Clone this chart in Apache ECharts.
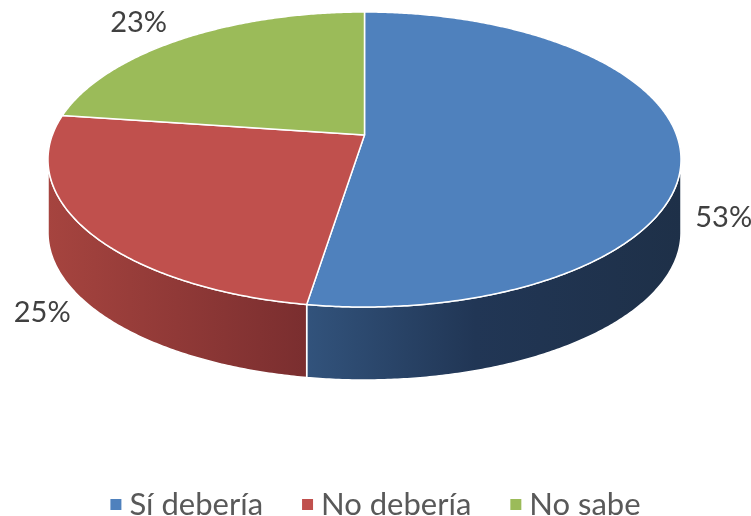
<!DOCTYPE html>
<html>
<head>
<meta charset="utf-8">
<script src="https://cdn.jsdelivr.net/npm/echarts@6/dist/echarts.min.js"></script>
<style>html,body{margin:0;padding:0;background:#fff}#c{width:751px;height:516px}</style>
</head>
<body>
<div id="c"></div>
<script>
// ---- data ----
const categories = ['Sí debería', 'No debería', 'No sabe'];
const values = [53, 25, 23];
const labelTexts = ['53%', '25%', '23%'];

// ---- styles / layout ----
const topColors = ['#4f81bd', '#c0504d', '#9bbb59'];
const wallColors = [
  [[0, '#32537c'], [0.45, '#213655'], [1, '#1e3048']],
  [[0, '#a6443f'], [1, '#7a2e2f']],
  [[0, '#7e9b44'], [1, '#5f7533']]
];
const CX = 364.5, CY = 159.5, RX = 316.5, RY = 147.5, K = 0.166, DEPTH = 73;
const FONT = 'Lato';

const total = values.reduce((a, b) => a + b, 0);
const starts = [];
{ let c = 0; values.forEach(v => { starts.push(c); c += v; }); }

function proj(phi, r, drop) {
  const u = r * Math.sin(phi), v = -r * Math.cos(phi);
  const den = 1 - K * v;
  const xp = u * Math.sqrt(1 - K * K) / den;
  const yp = (v - K) / den;
  return [CX + RX * xp, CY + RY * yp + (drop || 0)];
}
function arc(a, b, drop) {
  const pts = [];
  const n = Math.max(2, Math.ceil(Math.abs(b - a) / (Math.PI / 360)));
  for (let i = 0; i <= n; i++) pts.push(proj(a + (b - a) * i / n, 1, drop));
  return pts;
}
const silR = Math.acos(-K), silL = 2 * Math.PI - Math.acos(-K);

function renderSlice(params, api) {
  const idx = api.value(0);
  const val = api.value(1);
  const st = api.value(2);
  const a = st / total * 2 * Math.PI;
  const b = (st + val) / total * 2 * Math.PI;
  const children = [];
  // wall
  const ws = Math.max(a, silR), we = Math.min(b, silL);
  if (we > ws) {
    const top = arc(ws, we, 0);
    const bot = arc(we, ws, DEPTH);
    const pts = top.concat(bot);
    children.push({
      type: 'polygon', z2: 1,
      shape: { points: pts },
      style: {
        fill: { type: 'linear', x: 0, y: 0, x2: 1, y2: 0,
          colorStops: wallColors[idx].map(s => ({ offset: s[0], color: s[1] })) },
        stroke: '#ffffff', lineWidth: 1.5, lineJoin: 'round'
      }
    });
  }
  // top face
  const face = [proj(0, 0, 0)].concat(arc(a, b, 0));
  children.push({
    type: 'polygon', z2: 2,
    shape: { points: face },
    style: { fill: topColors[idx], stroke: '#ffffff', lineWidth: 1.5, lineJoin: 'round' }
  });
  // label
  const mid = (a + b) / 2;
  const rim = proj(mid, 1, 0);
  const u = Math.sin(mid), v = -Math.cos(mid);
  const den = 1 - K * v;
  const xp = u * Math.sqrt(1 - K * K) / den, yp = (v - K) / den;
  const lx = rim[0] + (xp >= 0 ? 1 : -1) * 44;
  const ly = rim[1] + yp * 20 + (v > 0 ? DEPTH : 0);
  children.push({
    type: 'text', z2: 3,
    style: {
      x: lx, y: ly, text: labelTexts[idx],
      fill: '#404040', font: '29px ' + FONT,
      align: 'center', verticalAlign: 'middle'
    }
  });
  return { type: 'group', children: children };
}

const chart = echarts.init(document.getElementById('c'), null, { renderer: 'canvas' });
chart.setOption({
  animation: false,
  color: topColors,
  legend: {
    top: 484, left: 'center',
    icon: 'rect', itemWidth: 11, itemHeight: 11, itemGap: 39,
    textStyle: { fontFamily: FONT, fontSize: 31, color: '#595959', padding: [0, 0, 0, 3] },
    data: categories
  },
  series: categories.map((name, i) => ({
    type: 'custom',
    name: name,
    coordinateSystem: 'none',
    itemStyle: { color: topColors[i] },
    renderItem: renderSlice,
    data: [[i, values[i], starts[i]]]
  }))
});
</script>
</body>
</html>
